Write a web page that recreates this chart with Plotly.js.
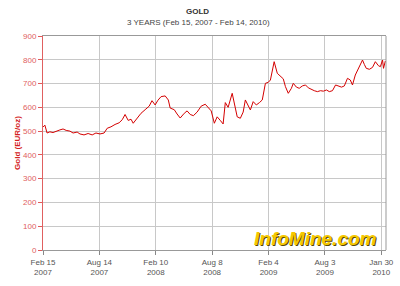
<!DOCTYPE html>
<html><head><meta charset="utf-8">
<script src="https://cdn.plot.ly/plotly-3.0.1.min.js"></script>
<style>html,body{margin:0;padding:0;background:#fff}#chart{width:400px;height:286px}</style>
</head><body><div id="chart"></div>
<script>
var dates = ["2007-02-15","2007-02-21","2007-02-28","2007-03-09","2007-03-19","2007-03-29","2007-04-10","2007-04-20","2007-04-30","2007-05-12","2007-05-22","2007-06-04","2007-06-13","2007-06-26","2007-07-09","2007-07-22","2007-08-03","2007-08-16","2007-08-29","2007-09-08","2007-09-20","2007-10-03","2007-10-16","2007-10-26","2007-11-04","2007-11-14","2007-11-23","2007-11-30","2007-12-13","2007-12-25","2008-01-07","2008-01-20","2008-01-29","2008-02-08","2008-02-17","2008-02-27","2008-03-11","2008-03-21","2008-03-27","2008-04-09","2008-04-18","2008-04-28","2008-05-11","2008-05-20","2008-05-30","2008-06-09","2008-06-21","2008-07-04","2008-07-17","2008-07-26","2008-08-05","2008-08-15","2008-08-24","2008-09-03","2008-09-12","2008-09-19","2008-09-28","2008-10-11","2008-10-21","2008-10-27","2008-11-06","2008-11-15","2008-11-22","2008-12-01","2008-12-08","2008-12-17","2008-12-27","2009-01-06","2009-01-15","2009-01-25","2009-02-03","2009-02-10","2009-02-16","2009-02-22","2009-03-04","2009-03-14","2009-03-23","2009-03-30","2009-04-08","2009-04-18","2009-04-24","2009-05-04","2009-05-13","2009-05-23","2009-06-02","2009-06-11","2009-06-21","2009-06-30","2009-07-10","2009-07-20","2009-07-29","2009-08-08","2009-08-17","2009-08-27","2009-09-06","2009-09-15","2009-09-25","2009-10-04","2009-10-14","2009-10-23","2009-10-30","2009-11-08","2009-11-18","2009-11-24","2009-12-01","2009-12-07","2009-12-13","2009-12-23","2010-01-02","2010-01-11","2010-01-21","2010-01-27","2010-02-03","2010-02-06","2010-02-12"];
var goldEur = [517,525,492,497,494,500,505,509,503,500,492,496,488,484,490,484,492,488,492,512,518,528,535,548,570,545,550,533,555,575,590,605,628,610,630,645,648,631,597,590,572,555,575,585,570,565,580,605,613,600,585,533,560,545,530,620,600,659,590,560,554,580,631,610,589,624,610,620,631,701,705,715,760,792,743,729,720,687,659,680,701,685,680,690,694,682,675,670,666,670,668,673,666,670,694,690,685,690,722,715,694,736,764,780,799,780,764,760,768,792,775,771,799,764,795];
var tickDates = ["2007-02-15","2007-08-14","2008-02-10","2008-08-08","2009-02-04","2009-08-03","2010-01-30"];
var tickLabels = ["Feb 15<br>2007","Aug 14<br>2007","Feb 10<br>2008","Aug 8<br>2008","Feb 4<br>2009","Aug 3<br>2009","Jan 30<br>2010"];
var yTicks = [0,100,200,300,400,500,600,700,800,900];

var trace = {x: dates, y: goldEur, type: 'scatter', mode: 'lines',
  line: {color: '#d40000', width: 1}, hoverinfo: 'skip'};

var layout = {
  width: 400, height: 286,
  margin: {l: 43, r: 14, t: 36, b: 36},
  paper_bgcolor: '#fff', plot_bgcolor: '#fff',
  showlegend: false,
  font: {family: 'Liberation Sans, Arial, sans-serif', size: 8, color: '#444'},
  xaxis: {type: 'date', range: ['2007-02-15','2010-02-14'],
    tickmode: 'array', tickvals: tickDates, ticktext: tickLabels,
    ticks: 'outside', ticklen: 4, tickcolor: '#888',
    showgrid: true, gridcolor: '#c8c8c8', gridwidth: 1,
    showline: true, linecolor: '#999', mirror: true, linewidth: 1,
    tickfont: {size: 8, color: '#555'}, zeroline: false},
  yaxis: {range: [0, 900], tickmode: 'array', tickvals: yTicks,
    ticks: 'outside', ticklen: 4, tickcolor: '#e05a5a',
    showgrid: true, gridcolor: '#c8c8c8', gridwidth: 1,
    showline: true, linecolor: '#e06060', linewidth: 1,
    tickfont: {size: 8, color: '#e06060'}, zeroline: false,
    title: {text: '<b>Gold (EUR/oz)</b>', font: {size: 8, color: '#d42020'}, standoff: 1}},
  shapes: [{type: 'line', xref: 'paper', yref: 'paper', x0: 1, x1: 1, y0: 0, y1: 1,
    line: {color: '#999', width: 1}}],
  annotations: [
    {text: '<b>GOLD</b>', xref: 'paper', yref: 'paper', x: 0.5, y: 1, xanchor: 'center', yanchor: 'bottom',
      yshift: 18, showarrow: false, font: {size: 8, color: '#333'}, xshift: -17},
    {text: '3 YEARS (Feb 15, 2007 - Feb 14, 2010)', xref: 'paper', yref: 'paper', x: 0.5, y: 1,
      xanchor: 'center', yanchor: 'bottom', yshift: 7, xshift: -16, showarrow: false, font: {size: 8, color: '#444'}},
    {text: '<b><i>InfoMine.com</i></b>', xref: 'paper', yref: 'paper', x: 1, y: 0, xanchor: 'right', yanchor: 'bottom',
      xshift: -6, yshift: -2, showarrow: false, font: {family: 'Liberation Sans, Arial, sans-serif', size: 19, color: '#5a4a00'}},
    {text: '<b><i>InfoMine.com</i></b>', xref: 'paper', yref: 'paper', x: 1, y: 0, xanchor: 'right', yanchor: 'bottom',
      xshift: -7, yshift: -1, showarrow: false, font: {family: 'Liberation Sans, Arial, sans-serif', size: 19, color: '#f5c800'}}
  ]
};
Plotly.newPlot('chart', [trace], layout, {staticPlot: true, displayModeBar: false});
</script></body></html>
